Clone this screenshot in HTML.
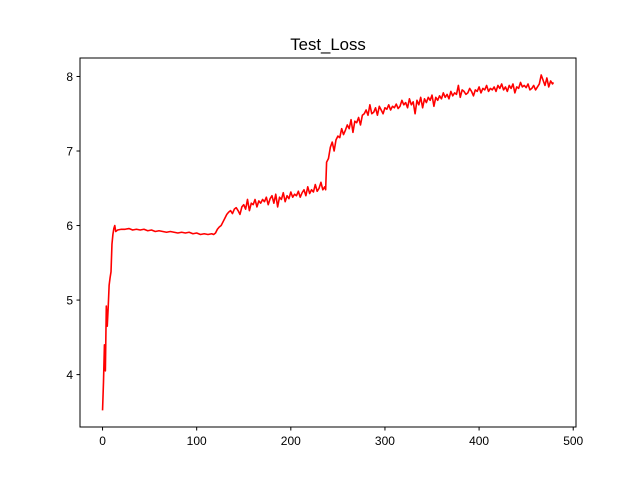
<!DOCTYPE html>
<html><head><meta charset="utf-8"><style>
body{margin:0;background:#fff;}
svg{display:block;font-family:"Liberation Sans","DejaVu Sans",sans-serif;}
</style></head><body>
<svg id="chart" width="640" height="480">
<rect width="640" height="480" fill="#fff"/>
<text x="328" y="50" font-size="16.8" text-anchor="middle">Test_Loss</text>
<g id="plot"></g>
<rect x="80" y="58" width="496" height="369" fill="none" stroke="#000" stroke-width="1"/>
<g id="axes"></g>
</svg>
<script>
const epochs = [0,1,2,3,4,5,6,7,8,9,10,11,12,13,14,16,20,24,28,32,36,40,44,48,52,56,60,64,68,72,76,80,84,88,92,96,100,104,108,112,116,118,120,122,124,126,128,130,132,134,136,138,140,142,144,146,148,150,152,154,156,158,160,162,164,166,168,170,172,174,176,178,180,182,184,186,188,190,192,194,196,198,200,202,204,206,208,210,212,214,216,218,220,222,224,226,228,230,232,234,236,237,238,240,242,244,246,248,250,252,254,256,258,260,262,264,266,268,270,272,274,276,278,280,282,284,286,288,290,292,294,296,298,300,302,304,306,308,310,312,314,316,318,320,322,324,326,328,330,332,334,336,338,340,342,344,346,348,350,352,354,356,358,360,362,364,366,368,370,372,374,376,378,380,382,384,386,388,390,392,394,396,398,400,402,404,406,408,410,412,414,416,418,420,422,424,426,428,430,432,434,436,438,440,442,444,446,448,450,452,454,456,458,460,462,464,466,468,470,472,474,476,478,479];
const losses = [3.52,3.9,4.4,4.05,4.92,4.65,4.9,5.2,5.3,5.38,5.75,5.88,5.96,6.0,5.92,5.94,5.95,5.95,5.96,5.94,5.95,5.94,5.95,5.93,5.94,5.92,5.93,5.92,5.91,5.92,5.91,5.9,5.91,5.9,5.91,5.89,5.9,5.88,5.89,5.88,5.89,5.88,5.9,5.95,5.98,6.0,6.05,6.1,6.15,6.18,6.2,6.16,6.22,6.24,6.2,6.15,6.25,6.28,6.22,6.35,6.2,6.3,6.28,6.35,6.25,6.33,6.3,6.35,6.32,6.38,6.28,6.36,6.4,6.3,6.42,6.25,6.38,6.35,6.44,6.32,6.4,6.36,6.45,6.38,6.42,6.4,6.46,6.38,6.44,6.48,6.4,6.52,6.43,6.48,6.45,6.55,6.46,6.5,6.58,6.48,6.52,6.48,6.85,6.9,7.05,7.12,7.0,7.15,7.2,7.18,7.3,7.22,7.28,7.35,7.3,7.42,7.25,7.4,7.38,7.45,7.35,7.48,7.5,7.55,7.48,7.62,7.5,7.52,7.58,7.48,7.6,7.55,7.5,7.58,7.56,7.62,7.55,7.6,7.58,7.63,7.57,7.6,7.68,7.62,7.65,7.58,7.7,7.62,7.66,7.5,7.68,7.62,7.72,7.58,7.7,7.65,7.72,7.68,7.75,7.6,7.72,7.68,7.74,7.7,7.78,7.72,7.76,7.7,7.8,7.74,7.78,7.76,7.88,7.72,7.82,7.8,7.76,7.78,7.84,7.8,7.74,7.82,7.8,7.86,7.78,7.84,7.82,7.88,7.8,7.84,7.82,7.86,7.8,7.88,7.84,7.9,7.82,7.86,7.8,7.88,7.84,7.9,7.78,7.86,7.84,7.92,7.86,7.88,7.85,7.9,7.82,7.84,7.88,7.82,7.86,7.9,8.02,7.95,7.88,7.98,7.86,7.94,7.9,7.92];
const xTicks = [0,100,200,300,400,500];
const yTicks = [4,5,6,7,8];

const xMin=-23.95, xMax=502.95, yMin=3.297, yMax=8.248;
const L=80,R=576,T=58,B=427;
const sx=v=>L+(v-xMin)/(xMax-xMin)*(R-L);
const sy=v=>B-(v-yMin)/(yMax-yMin)*(B-T);
const NS="http://www.w3.org/2000/svg";
const plot=document.getElementById('plot'), axes=document.getElementById('axes');
const n=Math.min(epochs.length,losses.length);
let d=epochs.slice(0,n).map((e,i)=>(i?'L':'M')+sx(e).toFixed(2)+','+sy(losses[i]).toFixed(2)).join(' ');
const p=document.createElementNS(NS,'path');
p.setAttribute('d',d);p.setAttribute('fill','none');p.setAttribute('stroke','#ff0000');p.setAttribute('stroke-width','1.6');p.setAttribute('stroke-linejoin','round');


plot.appendChild(p);
xTicks.forEach(t=>{
  const x=sx(t);
  const l=document.createElementNS(NS,'line');
  l.setAttribute('x1',x);l.setAttribute('x2',x);l.setAttribute('y1',B);l.setAttribute('y2',B+3.5);l.setAttribute('stroke','#000');
  
  
  axes.appendChild(l);
  const tx=document.createElementNS(NS,'text');
  tx.setAttribute('x',x);tx.setAttribute('y',B+18);tx.setAttribute('font-size','12');tx.setAttribute('text-anchor','middle');tx.textContent=t;
  
  
  axes.appendChild(tx);
});
yTicks.forEach(t=>{
  const y=sy(t);
  const l=document.createElementNS(NS,'line');
  l.setAttribute('x1',L-3.5);l.setAttribute('x2',L);l.setAttribute('y1',y);l.setAttribute('y2',y);l.setAttribute('stroke','#000');
  
  
  axes.appendChild(l);
  const tx=document.createElementNS(NS,'text');
  tx.setAttribute('x',L-7);tx.setAttribute('y',y+4.5);tx.setAttribute('font-size','12');tx.setAttribute('text-anchor','end');tx.textContent=t;
  
  
  axes.appendChild(tx);
});
</script>
</body></html>
